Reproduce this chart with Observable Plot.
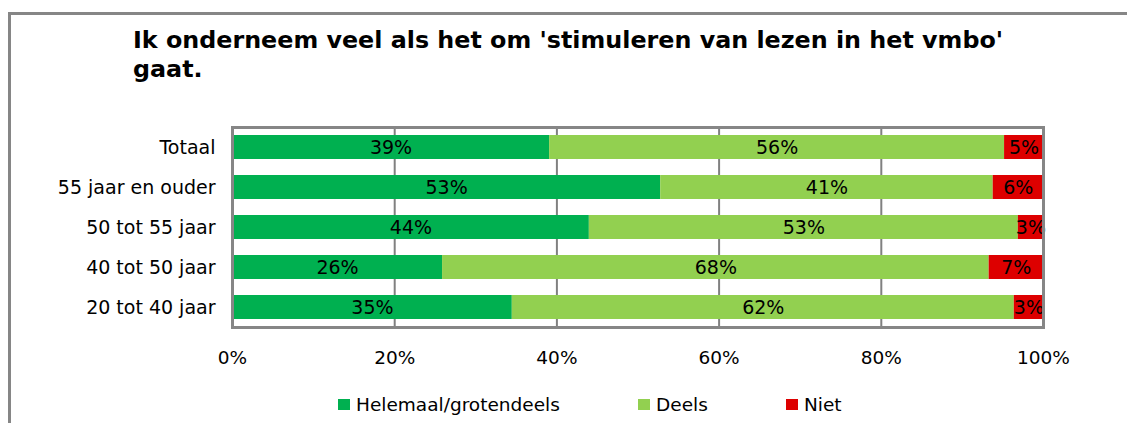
<!DOCTYPE html>
<html>
<head>
<meta charset="utf-8">
<script src="https://cdn.jsdelivr.net/npm/d3@7"></script>
<script src="https://cdn.jsdelivr.net/npm/@observablehq/plot@0.6"></script>
<style>
  html, body { margin: 0; padding: 0; background: #fff; }
  #wrap { position: relative; width: 1127px; height: 423px; overflow: hidden; font-family: "DejaVu Sans", Verdana, sans-serif; }
  #border { position: absolute; left: 8px; top: 12px; width: 1130px; height: 420px; border-left: 3px solid #868686; border-top: 3px solid #868686; box-sizing: border-box; }
  #title { position: absolute; left: 133px; top: 26px; font-weight: bold; font-size: 23.8px; line-height: 28.5px; color: #000; white-space: nowrap; }
  #chart { position: absolute; left: 0; top: 0; }
  .leg { position: absolute; top: 394px; font-size: 18.5px; color: #000; display: flex; align-items: center; gap: 6px; }
  .sw { width: 12px; height: 11px; display: inline-block; }
</style>
</head>
<body>
<div id="wrap">
  <div id="border"></div>
  <div id="title">Ik onderneem veel als het om 'stimuleren van lezen in het vmbo'<br>gaat.</div>
  <div id="chart"></div>
  <div class="leg" style="left:338px"><span class="sw" style="background:#00B050"></span>Helemaal/grotendeels</div>
  <div class="leg" style="left:638px"><span class="sw" style="background:#92D050"></span>Deels</div>
  <div class="leg" style="left:786px"><span class="sw" style="background:#DD0000"></span>Niet</div>
</div>
<script>
const categories = ["Totaal", "55 jaar en ouder", "50 tot 55 jaar", "40 tot 50 jaar", "20 tot 40 jaar"];
const series = ["Helemaal/grotendeels", "Deels", "Niet"];
const colors = ["#00B050", "#92D050", "#DD0000"];
const helemaal = [39.1, 52.8, 44.0, 25.9, 34.5];
const deels    = [56.1, 41.0, 52.9, 67.4, 61.9];
const niet     = [4.8, 6.2, 3.1, 6.7, 3.6];
const helemaalLabels = ["39%", "53%", "44%", "26%", "35%"];
const deelsLabels    = ["56%", "41%", "53%", "68%", "62%"];
const nietLabels     = ["5%", "6%", "3%", "7%", "3%"];
const xTicks = [0, 20, 40, 60, 80, 100];

const values = [helemaal, deels, niet];
const labels = [helemaalLabels, deelsLabels, nietLabels];
const data = [];
series.forEach((s, si) => {
  categories.forEach((c, ci) => {
    data.push({cat: c, series: s, value: values[si][ci], label: labels[si][ci]});
  });
});

const chart = Plot.plot({
  width: 1127,
  height: 423,
  marginLeft: 232,
  marginRight: 84,
  marginTop: 127,
  marginBottom: 96,
  style: {fontFamily: "'DejaVu Sans', Verdana, sans-serif", fontSize: "19px", color: "#000", background: "transparent"},
  x: {domain: [0, 100], ticks: xTicks, tickFormat: d => d + "%", label: null},
  y: {domain: categories, paddingInner: 0.4, paddingOuter: 0.2, label: null},
  color: {domain: series, range: colors},
  marks: [
    Plot.gridX([20, 40, 60, 80], {stroke: "#808080", strokeOpacity: 1, strokeWidth: 2}),
    Plot.barX(data, Plot.stackX({x: "value", y: "cat", fill: "series"})),
    Plot.text(data, Plot.stackX({x: "value", y: "cat", text: "label", fill: "#000", fontSize: 19})),
    Plot.frame({stroke: "#868686", strokeWidth: 3}),
    Plot.axisX(xTicks, {tickSize: 0, tickPadding: 23, fontSize: 18.5, label: null, tickFormat: d => d + "%"}),
    Plot.axisY({tickSize: 0, tickPadding: 17, fontSize: 19, label: null})
  ]
});
document.getElementById("chart").appendChild(chart);
</script>
</body>
</html>
